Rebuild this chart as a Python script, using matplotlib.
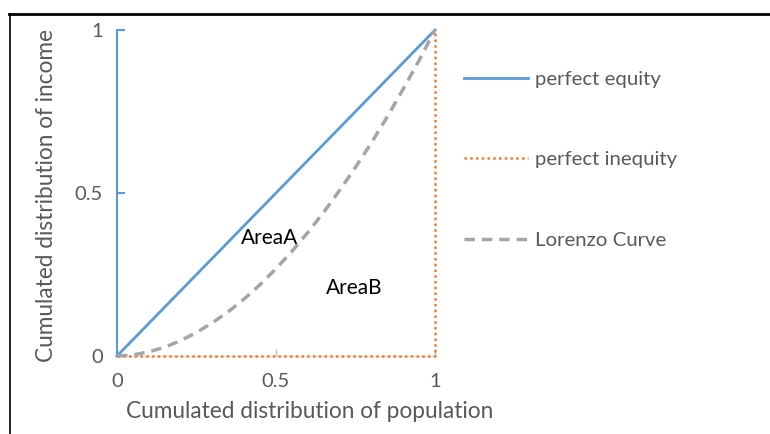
import matplotlib.pyplot as plt
from matplotlib.lines import Line2D

plt.rcParams['font.family'] = ['Lato', 'DejaVu Sans']

# series data
equity_x = [0, 1]
equity_y = [0, 1]
inequity_x = [0, 1, 1]
inequity_y = [0, 0, 1]
lorenz_x = [0, 0.05, 0.1, 0.15, 0.2, 0.25, 0.3, 0.35, 0.4, 0.45, 0.5,
            0.55, 0.6, 0.65, 0.7, 0.75, 0.8, 0.85, 0.9, 0.95, 1.0]
lorenz_y = [0, 0.003, 0.013, 0.027, 0.047, 0.072, 0.102, 0.136, 0.175, 0.219, 0.268,
            0.321, 0.379, 0.441, 0.508, 0.579, 0.654, 0.734, 0.819, 0.907, 1.0]
ticks = [0, 0.5, 1]
tick_labels = ['0', '0.5', '1']

blue = '#5B9BD5'
orange = '#ED7D31'
grey = '#A5A5A5'
txt = '#595959'

fig = plt.figure(figsize=(7.7, 4.34), dpi=100)
ax = fig.add_axes([117/770, 1 - 356/434, 318/770, 326/434])

ax.plot(equity_x, equity_y, color=blue, lw=2, label='perfect equity', zorder=3)
ax.plot(inequity_x, inequity_y, color=orange, lw=1.8, linestyle=(0, (1, 1.3)),
        label='perfect inequity', zorder=3)
ax.plot(lorenz_x, lorenz_y, color=grey, lw=2.5, linestyle=(0, (3, 2)),
        label='Lorenzo Curve', zorder=3)

ax.set_xlim(0, 1)
ax.set_ylim(0, 1)
ax.set_xticks(ticks)
ax.set_xticklabels(tick_labels)
ax.set_yticks(ticks)
ax.set_yticklabels(tick_labels)
for s in ['top', 'right']:
    ax.spines[s].set_visible(False)
ax.spines['left'].set_color(blue)
ax.spines['left'].set_linewidth(1.5)
ax.spines['bottom'].set_color('#D9D9D9')
ax.tick_params(axis='y', direction='in', length=6, width=1.5, color=blue,
               labelsize=14.5, labelcolor=txt, pad=10)
ax.tick_params(axis='x', direction='in', length=5, width=1, color='#BFBFBF',
               labelsize=14.5, labelcolor=txt, pad=12)
for ln in ax.lines:
    ln.set_clip_on(False)

ax.text(0.39, 0.343, 'AreaA', fontsize=15, color='black')
ax.text(0.657, 0.19, 'AreaB', fontsize=15, color='black')

fig.text(310/770, 1 - 411/434, 'Cumulated distribution of population',
         ha='center', va='center', fontsize=16.3, color=txt)
fig.text(47/770, 1 - 195/434, 'Cumulated distribution of income',
         ha='center', va='center', rotation=90, fontsize=16.3, color=txt)

handles, labels = ax.get_legend_handles_labels()
fig.legend(handles, labels, loc='upper left',
           bbox_to_anchor=(446/770, 1 - 52/434), frameon=False,
           fontsize=14.7, labelcolor=txt, labelspacing=3.1,
           handlelength=3.1, handletextpad=0.35)

# outer frame (top and left edges)
fig.add_artist(Line2D([9/770, 1], [1 - 13.5/434, 1 - 13.5/434],
                      color='black', lw=2, transform=fig.transFigure))
fig.add_artist(Line2D([9.5/770, 9.5/770], [0, 1 - 13.5/434],
                      color='black', lw=1.2, transform=fig.transFigure))

fig.savefig('out.png', dpi=100)
